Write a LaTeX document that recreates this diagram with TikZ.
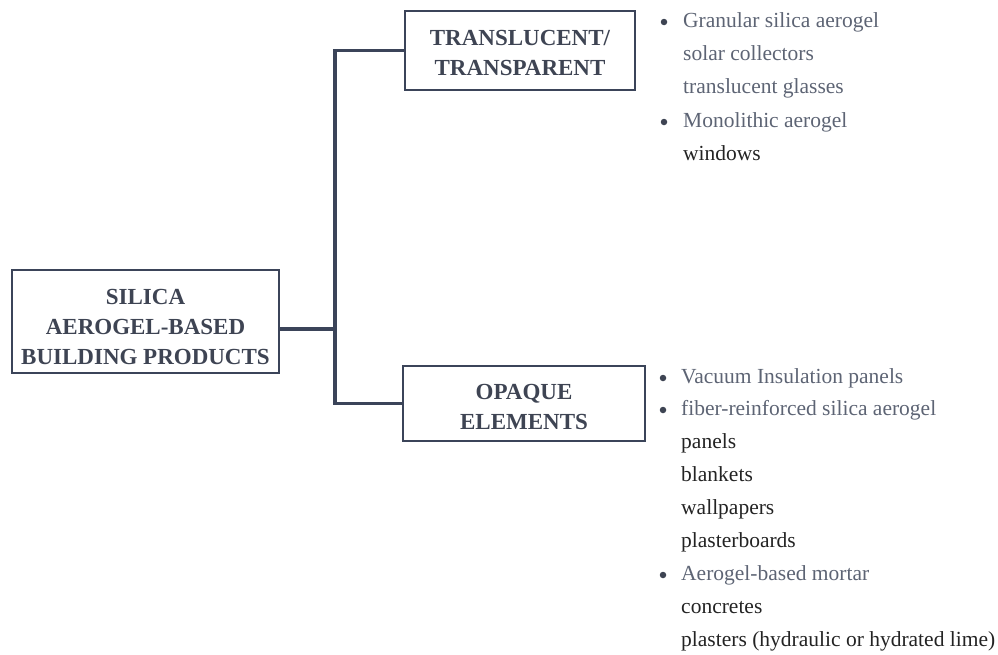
\documentclass[tikz,border=0pt]{standalone}
\usepackage{fontspec}
\setmainfont{Liberation Serif}
\definecolor{navy}{HTML}{3B4459}
\definecolor{boxtxt}{HTML}{3E4453}
\definecolor{itemtxt}{HTML}{5D6474}
\definecolor{subtxt}{HTML}{232323}
\tikzset{
  boxst/.style={draw=navy, line width=2.8pt, inner sep=0pt},
  boxlabel/.style={text=boxtxt, align=center, inner sep=0pt, font=\fontsize{23}{30}\selectfont\bfseries},
  bullettxt/.style={text=itemtxt, anchor=base west, inner sep=0pt, font=\fontsize{21.5}{26}\selectfont},
  subitem/.style={text=subtxt, anchor=base west, inner sep=0pt, font=\fontsize{21.5}{26}\selectfont},
  bulletdot/.style={circle, fill=boxtxt, inner sep=0pt, minimum size=6.5pt},
  thinconn/.style={draw=navy, line width=2.6pt},
  thickconn/.style={draw=navy, line width=4.5pt},
}
\begin{document}
\begin{tikzpicture}[x=1pt,y=-1pt]
\useasboundingbox (0,0) rectangle (998,654);
% boxes
\node[boxst, minimum width=267pt, minimum height=103pt] (main) at (145.5,321.5) {};
\node[boxlabel] (mainlbl) at (145.5,327) {SILICA\\AEROGEL-BASED\\BUILDING PRODUCTS};
\node[boxst, minimum width=230pt, minimum height=79pt] (top) at (520,50.5) {};
\node[boxlabel] (toplbl) at (520,53) {TRANSLUCENT/\\TRANSPARENT};
\node[boxst, minimum width=242pt, minimum height=75pt] (bot) at (524,403.5) {};
\node[boxlabel] (botlbl) at (524,406.5) {OPAQUE\\ELEMENTS};
% connectors
\coordinate (j) at (335,329);
\coordinate (bt) at (335,50.5);
\coordinate (bb) at (335,403.5);
\draw[thickconn] (main.east |- j) -- (j);
\draw[thickconn] ([yshift=-1.2pt]bt) -- ([yshift=1.2pt]bb);
\draw[thinconn] ([xshift=-2.2pt]bt) -- (top.west);
\draw[thinconn] ([xshift=-2.2pt]bb) -- (bot.west);
% top list
\node[bulletdot] (tb1) at (664,22) {};
\node[bullettxt] (t1) at (683,27) {Granular silica aerogel};
\node[bullettxt] (t2) at (683,60) {solar collectors};
\node[bullettxt] (t3) at (683,93.5) {translucent glasses};
\node[bulletdot] (tb2) at (664,122) {};
\node[bullettxt] (t4) at (683,127) {Monolithic aerogel};
\node[subitem] (t5) at (683,160) {windows};
% bottom list
\node[bulletdot] (bb1) at (663,378) {};
\node[bullettxt] (o1) at (681,383) {Vacuum Insulation panels};
\node[bulletdot] (bb2) at (663,410) {};
\node[bullettxt] (o2) at (681,415) {fiber-reinforced silica aerogel};
\node[subitem] (o3) at (681,448) {panels};
\node[subitem] (o4) at (681,481) {blankets};
\node[subitem] (o5) at (681,514) {wallpapers};
\node[subitem] (o6) at (681,547) {plasterboards};
\node[bulletdot] (bb3) at (663,575) {};
\node[bullettxt] (o7) at (681,580) {Aerogel-based mortar};
\node[subitem] (o8) at (681,613) {concretes};
\node[subitem] (o9) at (681,646) {plasters (hydraulic or hydrated lime)};
\end{tikzpicture}
\end{document}
